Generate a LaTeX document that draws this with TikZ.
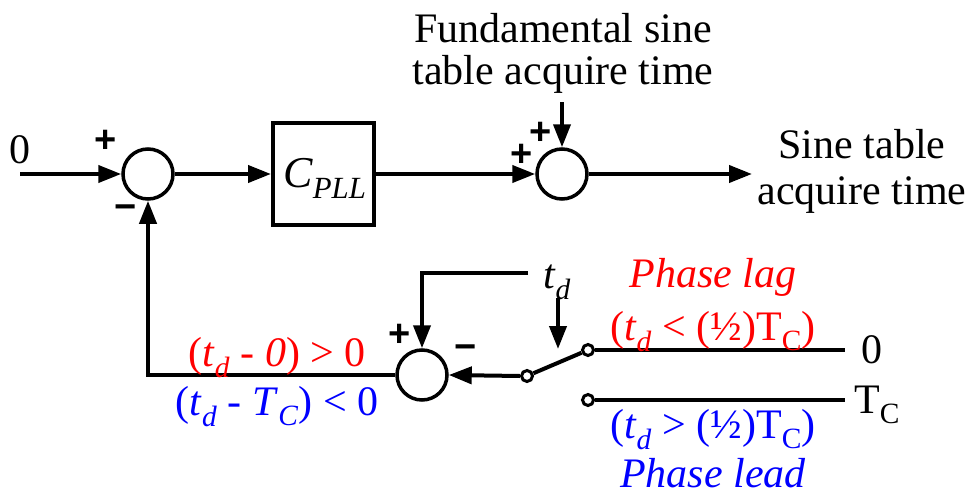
\documentclass[tikz,border=0pt]{standalone}
\usepackage{fontspec}
\setmainfont{Liberation Serif}
\newfontfamily\sgnfont{Liberation Sans}
\usetikzlibrary{arrows.meta}
\newcommand\tsub[1]{\textsubscript{#1}}
\begin{document}
\begin{tikzpicture}[x=1pt,y=-1pt, line width=4pt,
  arr/.style={-{Triangle[length=23pt,width=17pt]}},
  sumc/.style={circle,draw,line width=3.5pt,minimum size=50pt,inner sep=0pt},
  blk/.style={draw,line width=4pt,minimum width=101pt,minimum height=102pt,inner sep=0pt},
  term/.style={circle,draw,fill=white,line width=3pt,minimum size=11pt,inner sep=0pt},
  lbl/.style={font=\fontsize{42}{46}\selectfont, inner sep=0pt, align=center},
  bl/.style={font=\fontsize{42}{46}\selectfont, inner sep=0pt, anchor=base},
  sg/.style={font=\sgnfont\bfseries\fontsize{38}{38}\selectfont, inner sep=0pt}]
\useasboundingbox (0,0) rectangle (974,495);

% main blocks
\node[sumc] (s1) at (148,174) {};
\node[blk] (c) at (323.5,174) {};
\node[bl] (cl) at (325,187) {\fontsize{44}{44}\selectfont\itshape C\tsub{PLL}};
\node[sumc] (s2) at (562,174) {};
\node[sumc] (s3) at (422,375) {};

% input
\node[bl] (zero) at (20,163) {0};
\coordinate (in) at (20,174);
\draw[arr] (in) -- (s1.west);
\draw[arr] (c.east) -- (s2.west);
\draw[arr] (s1.east) -- (c.west);

% top input to s2
\node[lbl, font=\fontsize{42}{42}\selectfont] (fund) at (563,53) {Fundamental sine\\table acquire time};
\coordinate (ftop) at (s2.north |- 0,102);
\draw[arr] (ftop) -- (s2.north);

% output
\coordinate (out) at (752,174);
\draw[arr] (s2.east) -- (out);
\node[lbl] (sine) at (862,171) {Sine table\\acquire time};

% signs
\node[sg] (p1) at (106,141) {+};
\node[sg] (m1) at (126,212) {−};
\node[sg] (p2) at (522,155) {+};
\node[sg] (p3) at (541,133) {+};
\node[sg] (p4) at (400,335) {+};
\node[sg] (m4) at (466,352) {−};

% feedback
\draw[arr] (s3.west) -| (s1.south);

% t_d
\node[bl] (td) at (557,288) {\textit{t}\tsub{\textit{d}}};
\coordinate (tdl) at (528,273);
\draw[arr] (tdl) -| (s3.north);
\coordinate (tda) at (558,298);
\coordinate (tdb) at (558,349);
\draw[arr] (tda) -- (tdb);

% switch
\coordinate (ue) at (845,350);
\coordinate (le) at (845,400);
\node[term] (sc) at (527,376) {};
\node[term] (su) at (588,350) {};
\node[term] (sl) at (588,400) {};
\draw (sc) -- (su);
\draw (su) -- (ue);
\draw (sl) -- (le);
\draw[arr] (sc.west) -- (s3.east);

\node[bl] (z0) at (872,363) {0};
\node[bl] (tc) at (877,413) {T\tsub{C}};

% colored labels
\node[bl,text=red] (lagt) at (713,287) {\textit{Phase lag}};
\node[bl,text=red] (lagc) at (713,340) {(\textit{t}\tsub{\textit{d}} < (½)T\tsub{C})};
\node[bl,text=blue] (leadc) at (713,438) {(\textit{t}\tsub{\textit{d}} > (½)T\tsub{C})};
\node[bl,text=blue] (leadt) at (713,487) {\textit{Phase lead}};
\node[bl,text=red] (e1) at (277,366) {(\textit{t}\tsub{\textit{d}} - \textit{0}) > 0};
\node[bl,text=blue] (e2) at (277,415) {(\textit{t}\tsub{\textit{d}} - \textit{T}\tsub{\textit{C}}) < 0};
\end{tikzpicture}
\end{document}
